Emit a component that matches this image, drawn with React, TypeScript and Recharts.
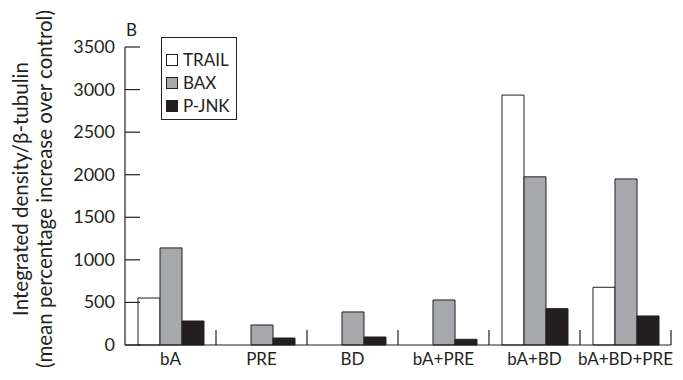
import React from 'react';
import { BarChart, Bar, XAxis, YAxis, Legend } from 'recharts';

const ink = '#231f20';
const font = 'Lato, "Open Sans", sans-serif';

const categories = ['bA', 'PRE', 'BD', 'bA+PRE', 'bA+BD', 'bA+BD+PRE'];
const trail = [552, 0, 0, 0, 2935, 678];
const bax = [1140, 235, 388, 529, 1975, 1950];
const pjnk = [282, 82, 94, 67, 427, 341];
const yTicks = [0, 500, 1000, 1500, 2000, 2500, 3000, 3500];

const series = [
  { key: 'TRAIL', fill: '#ffffff' },
  { key: 'BAX', fill: '#a7a8ab' },
  { key: 'P-JNK', fill: ink },
];

const data = categories.map((name, i) => ({
  name,
  TRAIL: trail[i],
  BAX: bax[i],
  'P-JNK': pjnk[i],
}));

const W = 683;
const H = 380;
const margin = { top: 47, right: 12, bottom: 0, left: 0 };
const yAxisWidth = 125;
const band = (W - margin.left - margin.right - yAxisWidth) / categories.length;

// label under the category, plus a short divider on its right edge
const XTick = (props: any) => {
  const { x, y, payload } = props;
  const sx = x + band / 2;
  return (
    <g>
      <text x={x} y={y + 20} textAnchor="middle" fontSize={17} fill={ink} fontFamily={font}>
        {payload.value}
      </text>
      <line x1={sx} x2={sx} y1={y} y2={y - 15} stroke={ink} strokeWidth={1.2} />
    </g>
  );
};

// number on the left, tick pointing into the plot
const YTick = (props: any) => {
  const { x, y, payload } = props;
  return (
    <g>
      <text x={x} y={y} dy={6} textAnchor="end" fontSize={18} fill={ink} fontFamily={font}>
        {payload.value}
      </text>
      <line x1={x + 10} x2={x + 25} y1={y} y2={y} stroke={ink} strokeWidth={1.2} />
    </g>
  );
};

const YTitle = (props: any) => {
  const { viewBox } = props;
  const cy = 189;
  const ax = viewBox.x + viewBox.width;
  return (
    <g fontFamily={font} fill={ink}>
      <text transform={`translate(28, ${cy}) rotate(-90)`} textAnchor="middle" fontSize={20.5}>
        Integrated density/β-tubulin
      </text>
      <text transform={`translate(52, ${cy}) rotate(-90)`} textAnchor="middle" fontSize={20.5}>
        (mean percentage increase over control)
      </text>
      <text x={ax + 1} y={viewBox.y - 11} fontSize={17}>
        B
      </text>
    </g>
  );
};

const LegendBox = () => (
  <div
    style={{
      border: `1px solid ${ink}`,
      padding: '10px 6px 2px 4px',
      background: '#fff',
      fontFamily: font,
      color: ink,
    }}
  >
    {series.map((s) => (
      <div key={s.key} style={{ display: 'flex', alignItems: 'center', height: 23 }}>
        <svg width={12} height={12}>
          <rect x={0.5} y={0.5} width={11} height={11} fill={s.fill} stroke={ink} />
        </svg>
        <span style={{ marginLeft: 5, fontSize: 17, lineHeight: '17px' }}>{s.key}</span>
      </div>
    ))}
  </div>
);

export default function App() {
  return (
    <div style={{ position: 'fixed', left: 0, top: 0, width: W, height: H, background: '#fff' }}>
      <BarChart width={W} height={H} data={data} margin={margin} barGap={0} barCategoryGap={13}>
        <XAxis
          dataKey="name"
          height={35}
          stroke={ink}
          strokeWidth={1.2}
          tickLine={false}
          tickSize={0}
          tickMargin={0}
          tick={<XTick />}
          interval={0}
        />
        <YAxis
          width={yAxisWidth}
          domain={[0, 3500]}
          ticks={yTicks}
          stroke={ink}
          strokeWidth={1.2}
          tickLine={false}
          tickSize={0}
          tickMargin={10}
          tick={<YTick />}
          interval={0}
          label={<YTitle />}
        />
        <Legend
          layout="horizontal"
          verticalAlign="middle"
          align="center"
          content={<LegendBox />}
          wrapperStyle={{ left: 161, top: 37, width: 'auto' }}
        />
        {series.map((s) => (
          <Bar
            key={s.key}
            dataKey={s.key}
            fill={s.fill}
            stroke={ink}
            strokeWidth={1}
            isAnimationActive={false}
          />
        ))}
      </BarChart>
    </div>
  );
}
